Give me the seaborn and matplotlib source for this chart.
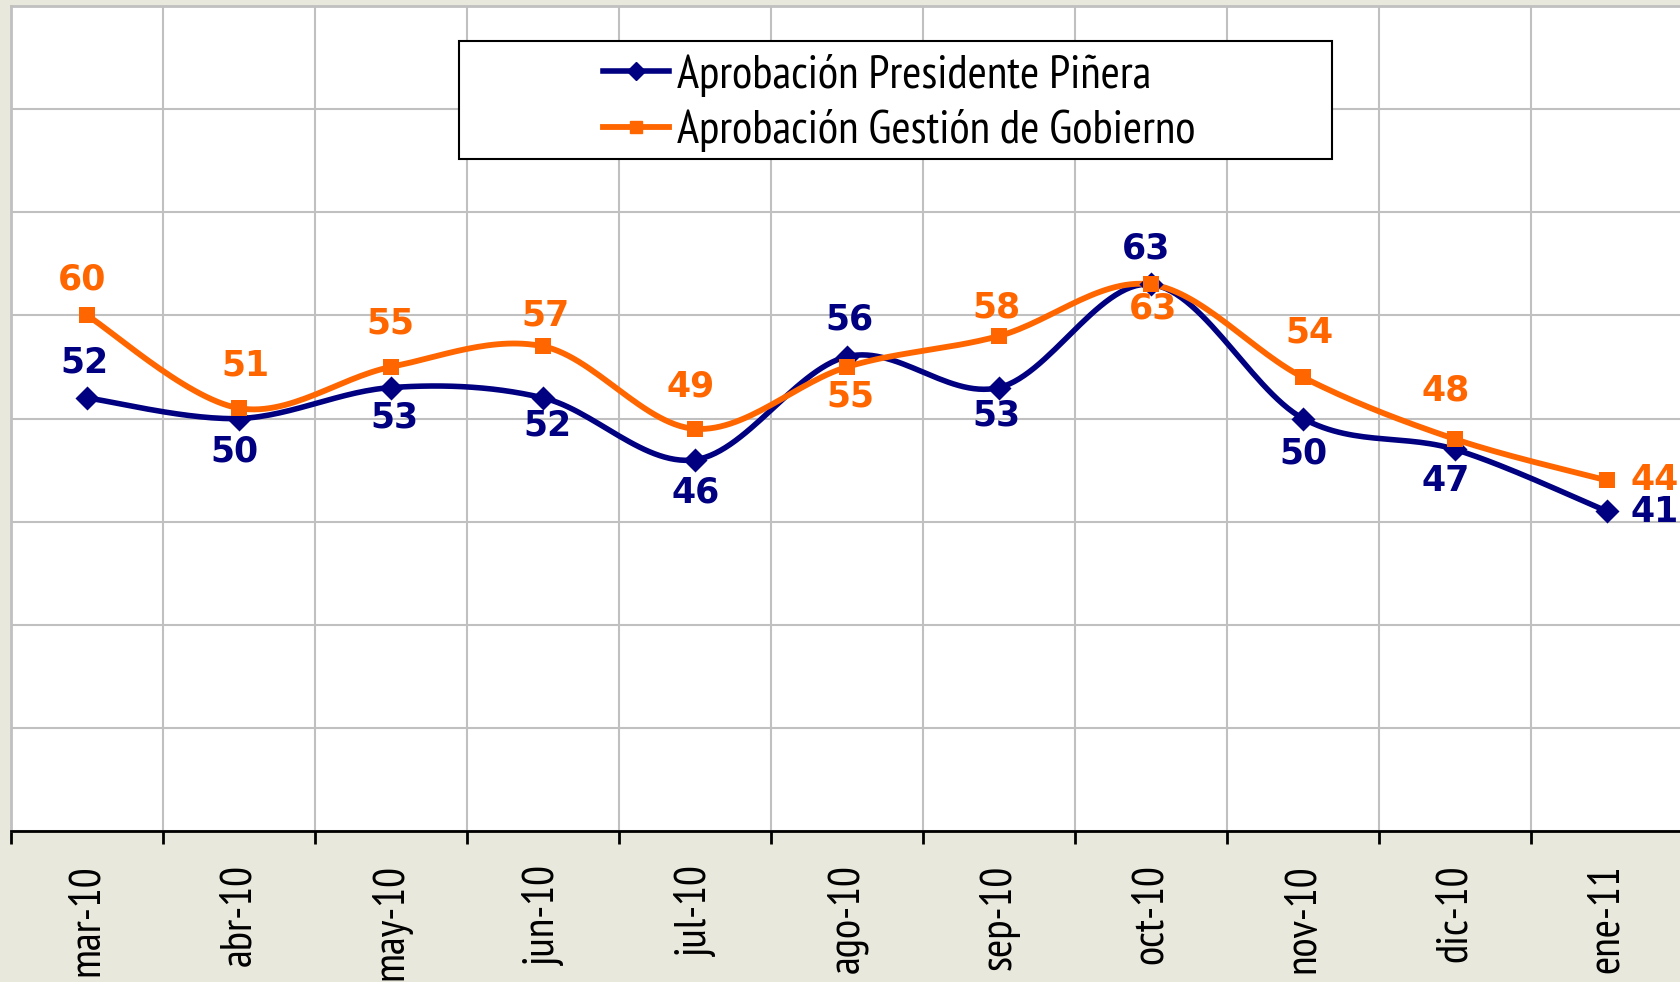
import matplotlib
matplotlib.use("Agg")
import matplotlib.pyplot as plt
from matplotlib import font_manager
from matplotlib.lines import Line2D
from matplotlib.patches import Rectangle
import numpy as np
import pandas as pd
import seaborn as sns

# ---------------- data ----------------
meses = ["mar-10", "abr-10", "may-10", "jun-10", "jul-10", "ago-10",
         "sep-10", "oct-10", "nov-10", "dic-10", "ene-11"]
pinera = [52, 50, 53, 52, 46, 56, 53, 63, 50, 47, 41]
gobierno = [60, 51, 55, 57, 49, 55, 58, 63, 54, 48, 44]
serie_pinera = "Aprobación Presidente Piñera"
serie_gobierno = "Aprobación Gestión de Gobierno"

# label offsets (screen pixels, +y downward) relative to each point
off_pinera = [(-3, -35), (-5, 33), (3, 30), (4, 28), (1, 33), (3, -37),
              (-3, 28), (-5, -36), (0, 35), (-9, 32), (48, 1)]
off_gobierno = [(-5, -36), (6, -43), (-1, -43), (3, -31), (-4, -42), (3, 30),
                (-3, -28), (2, 24), (6, -45), (-9, -49), (48, 0)]

NAVY = "#000080"
ORANGE = "#FF6600"
BG = "#E8E8DC"
GRID = "#C0C0C0"

names = {f.name for f in font_manager.fontManager.ttflist}
NARROW = "DejaVu Sans"
for cand in ["PT Sans Narrow", "Fira Sans Condensed", "Roboto Condensed",
             "Open Sans Condensed", "Asap Condensed", "Sofia Sans Condensed",
             "Archivo Narrow", "IBM Plex Sans Condensed", "Encode Sans Condensed",
             "Liberation Sans Narrow"]:
    if cand in names:
        NARROW = cand
        break
BOLD = "DejaVu Sans"


def smooth(y, n=30):
    """Excel-like smoothed line (Catmull-Rom Bezier) through the points."""
    y = np.asarray(y, float)
    x = np.arange(len(y), dtype=float)
    P = np.column_stack([x, y])
    Pm = np.vstack([P[0], P, P[-1]])
    out = []
    t = np.linspace(0, 1, n, endpoint=False)[:, None]
    for i in range(len(P) - 1):
        p0 = P[i]
        p3 = P[i + 1]
        c1 = p0 + (Pm[i + 2] - Pm[i]) / 6.0
        c2 = p3 - (Pm[i + 3] - Pm[i + 1]) / 6.0
        seg = ((1 - t) ** 3) * p0 + 3 * ((1 - t) ** 2) * t * c1 + 3 * (1 - t) * t ** 2 * c2 + t ** 3 * p3
        out.append(seg)
    out.append(P[-1:])
    return np.vstack(out)


W, H = 1680, 982
fig = plt.figure(figsize=(W / 100, H / 100), dpi=100, facecolor=BG)
renderer = fig.canvas.get_renderer()


def fit_size(text, target_px, base=30.0):
    t = fig.text(0, 0, text, family=NARROW, fontsize=base)
    w = t.get_window_extent(renderer).width
    t.remove()
    return base * target_px / w


def text_height(text, size):
    t = fig.text(0, 0, text, family=NARROW, fontsize=size)
    h = t.get_window_extent(renderer).height
    t.remove()
    return h


TICK_FS = fit_size("mar-10", 112)
LEG_FS = fit_size(serie_pinera, 474)

ax = fig.add_axes([11 / W, 1 - 831 / H, 1672 / W, 825 / H])
ax.set_facecolor("white")

frames = []
for name, vals in [(serie_pinera, pinera), (serie_gobierno, gobierno)]:
    s = smooth(vals)
    frames.append(pd.DataFrame({"x": s[:, 0], "y": s[:, 1], "serie": name}))
curves = pd.concat(frames, ignore_index=True)

sns.lineplot(data=curves[curves.serie == serie_pinera], x="x", y="y", color=NAVY,
             sort=False, estimator=None, lw=4.0, ax=ax, legend=False, zorder=3)
sns.lineplot(data=curves[curves.serie == serie_gobierno], x="x", y="y", color=ORANGE,
             sort=False, estimator=None, lw=4.2, ax=ax, legend=False, zorder=4)

pts = pd.DataFrame({"x": list(range(len(meses))) * 2,
                    "y": pinera + gobierno,
                    "serie": [serie_pinera] * len(meses) + [serie_gobierno] * len(meses)})
sns.scatterplot(data=pts[pts.serie == serie_pinera], x="x", y="y", marker="D", s=150,
                color=NAVY, edgecolor=NAVY, linewidth=0, ax=ax, legend=False, zorder=5)
sns.scatterplot(data=pts[pts.serie == serie_gobierno], x="x", y="y", marker="s", s=130,
                color=ORANGE, edgecolor=ORANGE, linewidth=0, ax=ax, legend=False, zorder=6)

for vals, offs, col in [(pinera, off_pinera, NAVY), (gobierno, off_gobierno, ORANGE)]:
    for i, (v, (dx, dy)) in enumerate(zip(vals, offs)):
        ax.annotate(str(v), (i, v), xytext=(dx, -dy), textcoords="offset pixels",
                    ha="center", va="center", fontsize=25, fontweight="bold",
                    family=BOLD, color=col, zorder=7, annotation_clip=False)

ax.set_xlim(-0.5, len(meses) - 0.5)
ax.set_ylim(10, 90)
ax.set_yticks(np.arange(10, 91, 10))
ax.set_yticklabels([])
ax.tick_params(axis="y", length=0)
ax.set_xticks(np.arange(-0.5, len(meses), 1.0))
ax.set_xticklabels([])
ax.set_xticks(np.arange(len(meses)), minor=True)
ax.set_xticklabels(meses, minor=True, rotation=90, fontsize=TICK_FS, family=NARROW,
                   va="top", ha="center")
ax.tick_params(axis="x", which="major", length=9.5, width=2, color="black", direction="out")
ax.tick_params(axis="x", which="minor", length=0, pad=24)
ax.grid(True, which="major", color=GRID, lw=1.5, zorder=0)
ax.set_axisbelow(True)
ax.set_xlabel("")
ax.set_ylabel("")
for sp in ["top", "left", "right"]:
    ax.spines[sp].set_color(GRID)
    ax.spines[sp].set_linewidth(2)
ax.spines["bottom"].set_color("black")
ax.spines["bottom"].set_linewidth(2)

# legend box
x0 = (459 - 11) / 1672
x1 = (1332 - 11) / 1672
y0 = (831 - 159) / 825
y1 = (831 - 41) / 825
ax.add_patch(Rectangle((x0, y0), x1 - x0, y1 - y0, transform=ax.transAxes,
                       facecolor="white", edgecolor="black", lw=1.5, zorder=8))
handles = [Line2D([], [], color=NAVY, lw=4.0, marker="D", ms=9, mec=NAVY),
           Line2D([], [], color=ORANGE, lw=4.2, marker="s", ms=8, mec=ORANGE)]
leg_px = LEG_FS * 100 / 72
h_txt = text_height(serie_gobierno, LEG_FS)
spacing = max(0.0, (55.5 - h_txt) / leg_px)
leg = ax.legend(handles, [serie_pinera, serie_gobierno], loc="center",
                bbox_to_anchor=((x0 + x1) / 2 + 0.002, (y0 + y1) / 2 - 2.8 / 825),
                frameon=False,
                prop={"family": NARROW, "size": LEG_FS}, handlelength=66 / leg_px,
                handletextpad=8 / leg_px, labelspacing=spacing, borderpad=0)
leg.set_zorder(9)

fig.savefig("out.png", dpi=100, facecolor=BG)
